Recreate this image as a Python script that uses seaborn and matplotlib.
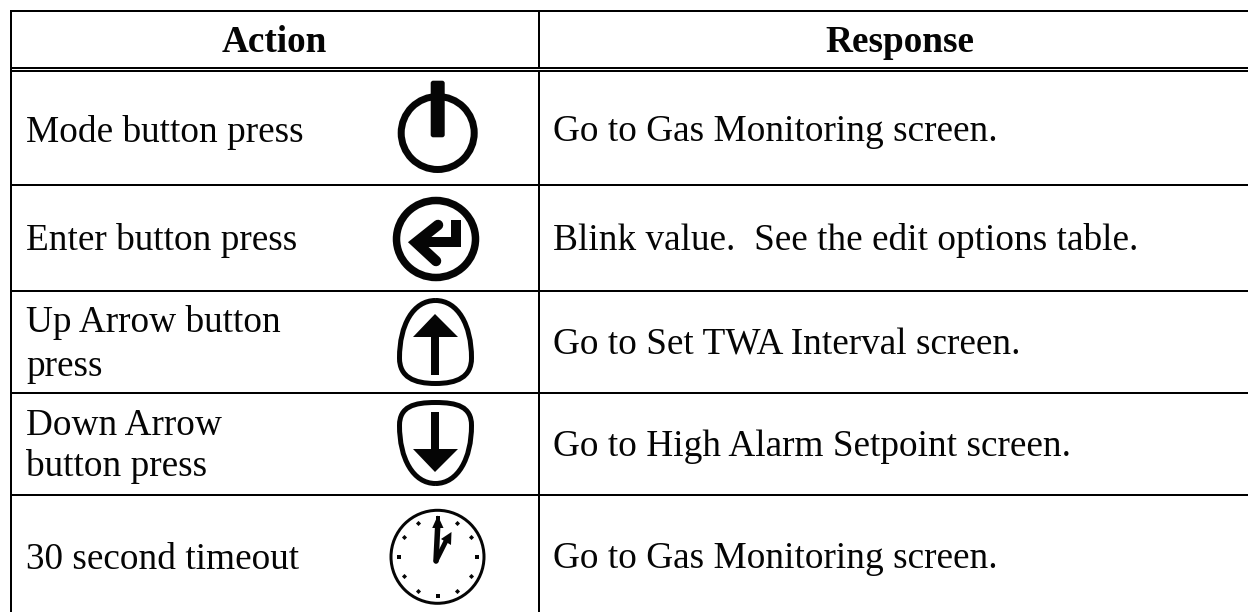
import numpy as np
import pandas as pd
import matplotlib
matplotlib.use("Agg")
import matplotlib.pyplot as plt
from matplotlib.path import Path
from matplotlib.patches import PathPatch, Polygon, Circle, Ellipse, Rectangle, FancyBboxPatch
import seaborn as sns

headers = ["Action", "Response"]
actions = ["Mode button press", "Enter button press", "Up Arrow button\npress",
           "Down Arrow\nbutton press", "30 second timeout"]
responses = ["Go to Gas Monitoring screen.", "Blink value.  See the edit options table.",
             "Go to Set TWA Interval screen.", "Go to High Alarm Setpoint screen.",
             "Go to Gas Monitoring screen."]
row_rules = [68, 71, 185, 291, 393, 495]
action_base = [[141.5], [250], [332.5, 376], [435, 476.5], [569]]
response_base = [141, 250, 354.5, 456, 568.5]

sns.set_theme(style="white", rc={"axes.linewidth": 0})
plt.rcParams["font.family"] = ["Liberation Serif", "DejaVu Serif"]
INK = "#050505"
PX = 0.72

fig = plt.figure(figsize=(12.48, 6.12), dpi=100, facecolor="white")
ax = fig.add_axes([0, 0, 1, 1])

# table rules
segs = [("top", 10, 11), ("top", 1248, 11),
        ("left", 11, 10), ("left", 11, 612),
        ("divA", 539, 12), ("divA", 539, 67),
        ("divB", 539, 72), ("divB", 539, 612)]
for y in row_rules:
    segs += [(f"r{y}", 10, y), (f"r{y}", 1248, y)]
rules = pd.DataFrame(segs, columns=["id", "x", "y"])
sns.lineplot(data=rules, x="x", y="y", units="id", estimator=None, sort=False,
             color="black", linewidth=2 * PX, legend=False, ax=ax,
             solid_capstyle="butt")

# text
FS = 26.8
ax.text(274.5, 52.5, headers[0], fontsize=FS, fontweight="bold", ha="center", va="baseline", color=INK)
ax.text(899.5, 52.5, headers[1], fontsize=FS, fontweight="bold", ha="center", va="baseline", color=INK)
for label, bases in zip(actions, action_base):
    for line, b in zip(label.split("\n"), bases):
        ax.text(26, b, line, fontsize=FS, ha="left", va="baseline", color=INK)
for label, b in zip(responses, response_base):
    ax.text(553, b, label, fontsize=FS, ha="left", va="baseline", color=INK)

# power icon
ax.add_patch(Circle((437.7, 133), 36.5, fill=False, ec=INK, lw=7 * PX))
ax.add_patch(FancyBboxPatch((433, 83), 9.4, 52, boxstyle="round,pad=2.3,rounding_size=2.5",
                            fc=INK, ec="none"))

# enter icon
ax.add_patch(Ellipse((436, 239), 79, 77, fill=False, ec=INK, lw=7.5 * PX))
ax.plot([438, 416, 436], [225, 242.5, 261], color=INK, lw=10.5 * PX, solid_capstyle="round",
        solid_joinstyle="miter")
ax.plot([416, 455.7, 455.7], [242, 242, 220], color=INK, lw=10 * PX, solid_capstyle="butt",
        solid_joinstyle="miter")


# egg-shaped arrow buttons
def egg(cx, half, y_round, y_flat, y_wide):
    s = 1 if y_flat > y_round else -1
    verts = [(cx, y_round),
             (cx + half * 0.62, y_round), (cx + half, y_wide - s * 33), (cx + half, y_wide),
             (cx + half, y_wide + s * 19), (cx + half * 0.6, y_flat), (cx, y_flat),
             (cx - half * 0.6, y_flat), (cx - half, y_wide + s * 19), (cx - half, y_wide),
             (cx - half, y_wide - s * 33), (cx - half * 0.62, y_round), (cx, y_round)]
    codes = [Path.MOVETO] + [Path.CURVE4] * 12
    ax.add_patch(PathPatch(Path(verts, codes), fill=False, ec=INK, lw=5 * PX))


egg(435.5, 36, 300.5, 383.5, 358)
ax.add_patch(Polygon([(435, 314), (458, 337), (413, 337)], fc=INK, ec="none"))
ax.add_patch(Rectangle((431, 336), 7.5, 39, fc=INK, ec="none"))

egg(435.5, 36, 483.5, 402.5, 425.5)
ax.add_patch(Polygon([(435, 472), (458, 449), (413, 449)], fc=INK, ec="none"))
ax.add_patch(Rectangle((431, 412), 7.5, 38, fc=INK, ec="none"))

# clock icon
CX, CY = 437.5, 556.8
ax.add_patch(Ellipse((CX, CY), 93, 93, fill=False, ec=INK, lw=3 * PX))
for h in range(12):
    a = np.deg2rad(h * 30)
    big = h % 3 == 0
    ax.plot(CX + 39 * np.sin(a), CY - 39 * np.cos(a), marker="s" if big else "D",
            ms=(4.6 if big else 3.6) * PX, color=INK, mew=0)
ax.plot([436, 437.8], [561, 524], color=INK, lw=5.5 * PX, solid_capstyle="round")
ax.add_patch(Polygon([(437.8, 515.5), (443.5, 528), (432.2, 528)], fc=INK, ec="none"))
ax.plot([436, 447], [561, 539], color=INK, lw=4.8 * PX, solid_capstyle="round")
ax.add_patch(Polygon([(451.5, 532), (451, 545), (441, 539)], fc=INK, ec="none"))

ax.set_xlim(0, 1248)
ax.set_ylim(612, 0)
ax.set_xlabel("")
ax.set_ylabel("")
ax.set_xticks([])
ax.set_yticks([])
ax.set_aspect("auto")
for sp in ax.spines.values():
    sp.set_visible(False)
fig.savefig("out.png", dpi=100, facecolor="white")
